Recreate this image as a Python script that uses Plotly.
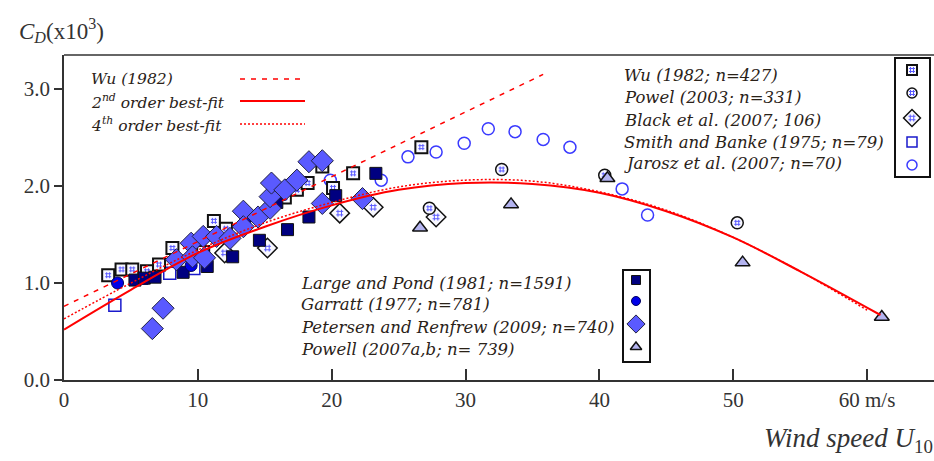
import plotly.graph_objects as go

# ---------------- data ----------------
wu_u = [3.3, 4.3, 5.1, 6.2, 7.1, 8.1, 10.4, 11.2, 12.1, 16.5, 17.4, 18.2, 19.3, 20.1, 21.6, 26.7]
wu_c = [1.08, 1.14, 1.14, 1.12, 1.19, 1.36, 1.32, 1.64, 1.56, 1.88, 1.96, 2.03, 2.20, 1.98, 2.13, 2.40]

powel03_u = [27.3, 32.7, 40.4, 50.3]
powel03_c = [1.77, 2.17, 2.11, 1.62]

black_u = [12.0, 15.2, 20.6, 23.1, 27.8]
black_c = [1.31, 1.36, 1.72, 1.78, 1.68]

smith_u = [3.8, 5.8, 7.9, 9.7]
smith_c = [0.77, 1.05, 1.10, 1.15]

jarosz_u = [19.9, 23.7, 25.7, 27.8, 29.9, 31.7, 33.7, 35.8, 37.8, 41.7, 43.6]
jarosz_c = [2.06, 2.06, 2.30, 2.35, 2.44, 2.59, 2.56, 2.48, 2.40, 1.97, 1.70]

large_u = [5.3, 6.0, 6.8, 8.9, 10.7, 12.6, 14.6, 15.9, 16.7, 18.3, 20.3, 23.3]
large_c = [1.03, 1.05, 1.06, 1.11, 1.17, 1.27, 1.44, 1.83, 1.55, 1.68, 1.90, 2.13]

garratt_u = [4.0, 9.5, 13.5]
garratt_c = [1.00, 1.18, 1.62]

petersen_u = [6.6, 7.4, 8.4, 9.5, 9.6, 10.4, 10.5, 11.4, 12.4, 13.4, 13.4, 14.5, 15.4, 15.4,
              15.5, 16.5, 17.4, 18.3, 19.3, 19.3, 22.3]
petersen_c = [0.53, 0.74, 1.24, 1.41, 1.27, 1.48, 1.26, 1.48, 1.46, 1.74, 1.58, 1.68, 1.77, 1.89,
              2.03, 1.96, 2.06, 2.25, 2.26, 1.82, 1.87]

powell07_u = [26.6, 33.4, 40.6, 50.7, 61.1]
powell07_c = [1.57, 1.81, 2.08, 1.21, 0.65]

# curves
wu_line_u = [0, 35.8]
wu_line_c = [0.76, 3.15]

fit2_u = [0, 5, 10, 15, 20, 25, 30, 35, 40, 45, 50, 55, 61]
fit2_c = [0.52, 0.93, 1.31, 1.58, 1.80, 1.96, 2.03, 2.02, 1.93, 1.74, 1.47, 1.12, 0.67]

fit4_u = [0, 5, 10, 15, 20, 25, 30, 35, 40, 45, 50, 55, 60]
fit4_c = [0.63, 1.00, 1.34, 1.62, 1.83, 1.99, 2.06, 2.05, 1.94, 1.75, 1.47, 1.12, 0.72]

x_ticks = [0, 10, 20, 30, 40, 50, 60]
x_tick_labels = ["0", "10", "20", "30", "40", "50", "60 m/s"]
y_ticks = [0, 1, 2, 3]
y_tick_labels = ["0.0", "1.0", "2.0", "3.0"]

legend_left = ["<i>Wu (1982)</i>", "<i>2<sup>nd</sup> order best-fit</i>", "<i>4<sup>th</sup> order best-fit</i>"]
legend_tr = ["Wu (1982; n=427)", "Powel (2003; n=331)", "Black et al. (2007; 106)",
             "Smith and Banke (1975; n=79)", "Jarosz et al. (2007; n=70)"]
legend_bot = ["Large and Pond (1981; n=1591)", "Garratt (1977; n=781)",
              "Petersen and Renfrew (2009; n=740)", "Powell (2007a,b; n= 739)"]

# ---------------- styles ----------------
SERIF = "Liberation Serif"
LEGF = "DejaVu Serif"
RED = "#ff0000"
TXT = "#2a2218"

sty = {
    "wu": dict(symbol="square", size=12, color="#f8f8ff", line=dict(color="#111", width=2)),
    "powel03": dict(symbol="circle", size=12, color="#f8f8ff", line=dict(color="#111", width=1.5)),
    "black": dict(symbol="diamond", size=15, color="#f8f8ff", line=dict(color="#111", width=1.5)),
    "smith": dict(symbol="square", size=12, color="white", line=dict(color="#1a1acc", width=1.5)),
    "jarosz": dict(symbol="circle", size=12, color="white", line=dict(color="#3a3aff", width=1.5)),
    "large": dict(symbol="square", size=12, color="#000080", line=dict(color="#111", width=1)),
    "garratt": dict(symbol="circle", size=12, color="#0000e8", line=dict(color="#000060", width=1)),
    "petersen": dict(symbol="diamond", size=17, color="#5a5aff", line=dict(color="#222244", width=1)),
    "powell07": dict(symbol="triangle-up", size=13, color="#b4b4f0", line=dict(color="#111", width=1.5)),
}
pattern = {"wu": 6, "powel03": 6, "black": 7}

fig = go.Figure()

def add_series(u, c, key, xa="x", ya="y"):
    s = sty[key]
    fig.add_trace(go.Scatter(x=u, y=c, mode="markers", xaxis=xa, yaxis=ya, showlegend=False,
                             hoverinfo="skip",
                             marker=dict(symbol=s["symbol"], size=s["size"], color=s["color"],
                                         line=s["line"])))
    if key in pattern:
        fig.add_trace(go.Scatter(x=u, y=c, mode="markers", xaxis=xa, yaxis=ya, showlegend=False,
                                 hoverinfo="skip",
                                 marker=dict(symbol="hash-open", size=pattern[key], color="#5a5aff",
                                             line=dict(color="#5a5aff", width=1))))

order = [("jarosz", jarosz_u, jarosz_c), ("smith", smith_u, smith_c), ("wu", wu_u, wu_c),
         ("black", black_u, black_c), ("powel03", powel03_u, powel03_c),
         ("large", large_u, large_c), ("garratt", garratt_u, garratt_c),
         ("petersen", petersen_u, petersen_c), ("powell07", powell07_u, powell07_c)]
for key, u, c in order:
    add_series(u, c, key)

fig.add_trace(go.Scatter(x=wu_line_u, y=wu_line_c, mode="lines", showlegend=False, hoverinfo="skip",
                         line=dict(color=RED, width=1.5, dash="5px,6px")))
fig.add_trace(go.Scatter(x=fit2_u, y=fit2_c, mode="lines", showlegend=False, hoverinfo="skip",
                         line=dict(color=RED, width=2, shape="spline")))
fig.add_trace(go.Scatter(x=fit4_u, y=fit4_c, mode="lines", showlegend=False, hoverinfo="skip",
                         line=dict(color=RED, width=1.5, dash="2px,2px", shape="spline")))

# ---------------- legends (in a pixel overlay axis) ----------------
PX_L, PX_R, PX_T, PX_B = 64, 934, 55, 380

# left legend: text + line samples
left_y = [79, 101, 124]
for t, yy in zip(legend_left, left_y):
    fig.add_annotation(x=89, y=yy, xref="x2", yref="y2", text=t, showarrow=False, xanchor="left",
                       yanchor="middle", font=dict(family=LEGF, size=15.5, color=TXT))
for yy, d, w in zip(left_y, ["5px,6px", "solid", "2px,2px"], [1.5, 2, 1.5]):
    fig.add_trace(go.Scatter(x=[240, 305], y=[yy, yy], xaxis="x2", yaxis="y2", mode="lines",
                             showlegend=False, hoverinfo="skip",
                             line=dict(color=RED, width=w, dash=d)))

# top-right legend
tr_y = [75, 97, 120, 142, 163]
sym_y = [70, 93, 118, 142, 165]
for t, yy in zip(legend_tr, tr_y):
    fig.add_annotation(x=622, y=yy, xref="x2", yref="y2", text="<i>" + t + "</i>", showarrow=False,
                       xanchor="left", yanchor="middle", font=dict(family=LEGF, size=16.5, color=TXT))
fig.add_shape(type="rect", xref="x2", yref="y2", x0=895, x1=930, y0=58, y1=177,
              line=dict(color="#111", width=2))
for key, yy in zip(["wu", "powel03", "black", "smith", "jarosz"], sym_y):
    s = dict(sty[key])
    sty[key] = dict(s, size=s["size"] - 2)
    add_series([912], [yy], key, "x2", "y2")
    sty[key] = s

# bottom legend
bot_y = [283, 304, 327, 349]
bsym_y = [280, 301, 324, 347]
for t, yy in zip(legend_bot, bot_y):
    fig.add_annotation(x=299, y=yy, xref="x2", yref="y2", text="<i>" + t + "</i>", showarrow=False,
                       xanchor="left", yanchor="middle", font=dict(family=LEGF, size=16.5, color=TXT))
fig.add_shape(type="rect", xref="x2", yref="y2", x0=623, x1=650, y0=270, y1=362,
              line=dict(color="#111", width=2))
for key, yy in zip(["large", "garratt", "petersen", "powell07"], bsym_y):
    s = dict(sty[key])
    sty[key] = dict(s, size=s["size"] - 3)
    add_series([636], [yy], key, "x2", "y2")
    sty[key] = s

# top frame line
fig.add_shape(type="line", xref="paper", yref="paper", x0=0, x1=1, y0=1, y1=1,
              line=dict(color="#333", width=1.5))

# axis titles
fig.add_annotation(x=(17 - PX_L) / (PX_R - PX_L), y=(PX_B - 30) / (PX_B - PX_T), xref="paper", yref="paper",
                   text="<i>C</i><sub><i>D</i></sub>(x10<sup>3</sup>)", showarrow=False,
                   xanchor="left", yanchor="middle", font=dict(family=SERIF, size=23, color="#333"))
fig.add_annotation(x=(762 - PX_L) / (PX_R - PX_L), y=(PX_B - 440) / (PX_B - PX_T), xref="paper", yref="paper",
                   text="<i>Wind speed U</i><sub>10</sub>", showarrow=False,
                   xanchor="left", yanchor="middle", font=dict(family=SERIF, size=27, color="#333"))

fig.update_layout(
    width=934, height=461,
    margin=dict(l=PX_L, r=934 - PX_R, t=PX_T, b=461 - PX_B),
    paper_bgcolor="white", plot_bgcolor="white",
    showlegend=False,
    xaxis=dict(range=[0, 65], tickmode="array", tickvals=x_ticks, ticktext=x_tick_labels,
               ticks="inside", ticklen=11, tickwidth=1.5, tickcolor="#333",
               showline=True, linecolor="#333", linewidth=1.5, showgrid=False, zeroline=False,
               tickfont=dict(family=SERIF, size=21, color="#333")),
    yaxis=dict(range=[0, 3.35], tickmode="array", tickvals=y_ticks, ticktext=y_tick_labels,
               ticks="outside", ticklen=8, tickwidth=1.5, tickcolor="#333",
               showline=True, linecolor="#333", linewidth=1.5, showgrid=False, zeroline=False,
               tickfont=dict(family=SERIF, size=21, color="#333")),
    xaxis2=dict(range=[PX_L, PX_R], overlaying="x", visible=False, fixedrange=True),
    yaxis2=dict(range=[PX_B, PX_T], overlaying="y", visible=False, fixedrange=True),
)

fig.write_html("out.html", config={"displayModeBar": False},
               post_script="document.body.style.margin='0';document.body.style.overflow='hidden';")
